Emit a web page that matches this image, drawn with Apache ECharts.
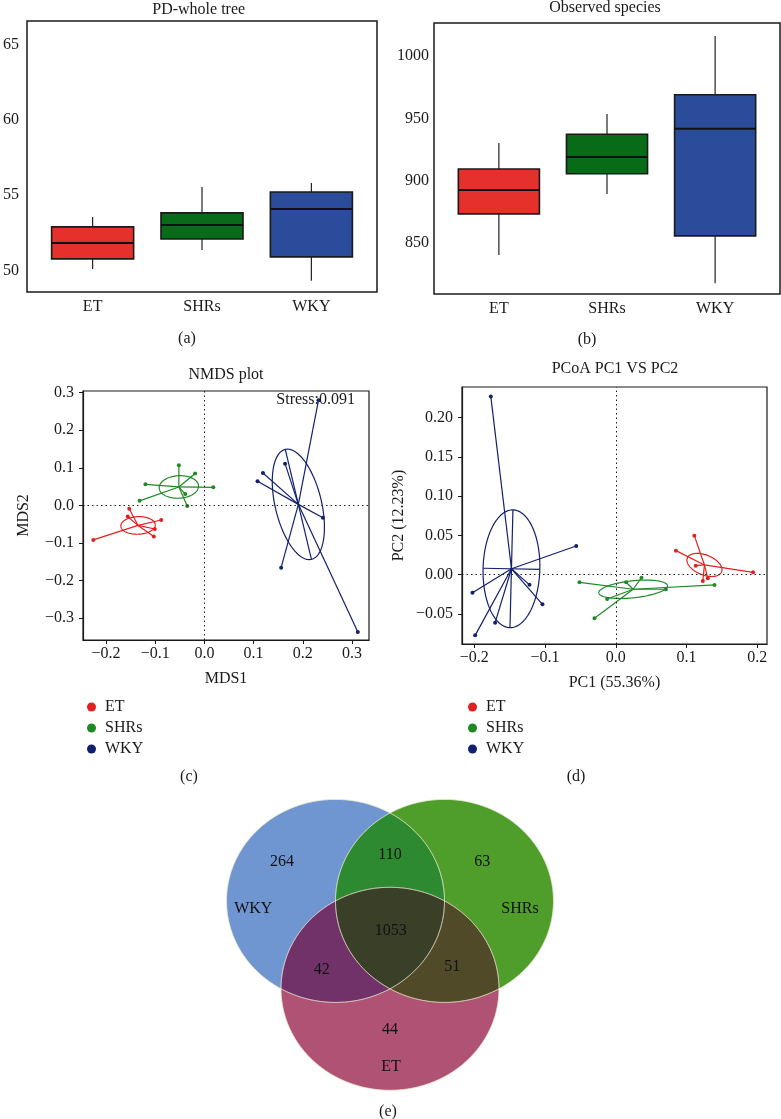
<!DOCTYPE html>
<html><head><meta charset="utf-8">
<script src="https://cdn.jsdelivr.net/npm/echarts@6/dist/echarts.min.js"></script>
<style>html,body{margin:0;padding:0;background:#fff}#c{width:781px;height:1119px}</style>
</head><body><div id="c"></div>
<script>
// ---------- DATA ----------
const groups = ['ET', 'SHRs', 'WKY'];
// boxplots: [min, Q1, median, Q3, max]
const pdWholeTree = [
  [50.11, 50.78, 51.84, 52.90, 53.56],
  [51.37, 52.10, 53.03, 53.83, 55.55],
  [49.32, 50.91, 54.09, 55.22, 55.82]
];
const observedSpecies = [
  [840.2, 873.2, 892.4, 909.3, 930.2],
  [889.2, 905.5, 919.0, 937.2, 953.5],
  [817.4, 855.5, 941.7, 969.0, 1016.2]
];
const pdTicks = [50, 55, 60, 65];
const osTicks = [850, 900, 950, 1000];

// NMDS sample coordinates [MDS1, MDS2]
const nmdsET = [[-0.226,-0.092],[-0.153,-0.009],[-0.156,-0.030],[-0.088,-0.039],[-0.101,-0.063],[-0.103,-0.083]];
const nmdsSHRs = [[-0.052,0.107],[-0.019,0.085],[-0.120,0.056],[0.018,0.048],[-0.132,0.012],[-0.035,-0.002],[-0.039,0.030]];
const nmdsWKY = [[0.232,0.280],[0.164,0.111],[0.119,0.086],[0.108,0.064],[0.241,-0.033],[0.156,-0.166],[0.312,-0.337]];
// confidence ellipses: [cx, cy, ax, ay, bx, by]  (conjugate half-axis vectors)
const nmdsEllET = [-0.135, -0.0535, 0.035, 0.002, -0.001, 0.0234];
const nmdsEllSHRs = [-0.052, 0.049, 0.040, 0.002, 0.0, 0.030];
const nmdsEllWKY = [0.191, 0.0026, 0.0266, -0.1464, 0.0459, 0.0141];
const nmdsStress = 0.091;
const nmdsXTicks = [-0.2, -0.1, 0, 0.1, 0.2, 0.3];
const nmdsYTicks = [-0.3, -0.2, -0.1, 0, 0.1, 0.2, 0.3];

// PCoA sample coordinates [PC1, PC2]
const pcoaET = [[0.111,0.0497],[0.085,0.0306],[0.194,0.003],[0.113,0.0115],[0.123,-0.008],[0.130,-0.0046]];
const pcoaSHRs = [[-0.0513,-0.0097],[0.0363,-0.0038],[0.1395,-0.0131],[0.0146,-0.0097],[0.0707,-0.0186],[-0.0123,-0.031],[-0.0301,-0.0556]];
const pcoaWKY = [[-0.1767,0.227],[-0.056,0.0365],[-0.2026,-0.0229],[-0.122,-0.013],[-0.1037,-0.0378],[-0.1706,-0.0611],[-0.1988,-0.0773]];
const pcoaEllET = [0.1253, 0.0124, 0.0242, -0.0088, -0.0053, -0.0118];
const pcoaEllSHRs = [0.0245, -0.0186, 0.0485, 0.0046, 0.00126, -0.0108];
const pcoaEllWKY = [-0.1475, 0.0075, 0.0021, 0.075, 0.0401, -0.0007];
const pcoaXTicks = [-0.2, -0.1, 0, 0.1, 0.2];
const pcoaYTicks = [-0.05, 0, 0.05, 0.10, 0.15, 0.20];
const pc1Pct = '55.36%';
const pc2Pct = '12.23%';

// Venn: sets and region counts
const vennSets = ['WKY', 'SHRs', 'ET'];
const vennRegions = ['WKY', 'WKY∩SHRs', 'SHRs', 'WKY∩ET', 'WKY∩SHRs∩ET', 'SHRs∩ET', 'ET'];
const vennCounts = [264, 110, 63, 42, 1053, 51, 44];

// ---------- LAYOUT / STYLE ----------
const FF = '"Liberation Serif","DejaVu Serif",serif';
const TXT = '#1a1a1a';
const boxColors = ['#e5302b', '#076b17', '#2b4b9b'];
const grpColors = ['#e2201f', '#1f8a24', '#13206e'];
// venn layout (unit circles, equilateral arrangement)
const vennCenters = [[-0.5, 0], [0.5, 0], [0, -0.866]];
const vennCountPos = [[-0.99,0.386],[0,0.452],[0.847,0.386],[-0.627,-0.674],[0.006,-0.294],[0.572,-0.654],[0,-1.265]];
const vennSetPos = [[-1.254,-0.073],[1.193,-0.08],[0.009,-1.639]];
const vennFill = { W:'#7096d1', S:'#4f9e2c', E:'#b05273', WS:'#2d8a30', WE:'#703269', SE:'#504a28', WSE:'#3a4028' };

const fmtMinus = s => s.replace('-', '\u2212');
const fmt1 = v => fmtMinus((Math.abs(v) < 1e-9 ? 0 : v).toFixed(1));
const fmt2 = v => fmtMinus((Math.abs(v) < 1e-9 ? 0 : v).toFixed(2));

function boxRender(params, api) {
  const x = api.value(0);
  const lo = api.coord([x, api.value(1)]);
  const q1 = api.coord([x, api.value(2)]);
  const md = api.coord([x, api.value(3)]);
  const q3 = api.coord([x, api.value(4)]);
  const hi = api.coord([x, api.value(5)]);
  const w = api.size([0.75, 0])[0];
  const cx = md[0];
  return { type: 'group', children: [
    { type: 'line', shape: { x1: cx, y1: hi[1], x2: cx, y2: q3[1] }, style: { stroke: '#222', lineWidth: 1.2 } },
    { type: 'line', shape: { x1: cx, y1: q1[1], x2: cx, y2: lo[1] }, style: { stroke: '#222', lineWidth: 1.2 } },
    { type: 'rect', shape: { x: cx - w / 2, y: q3[1], width: w, height: q1[1] - q3[1] },
      style: { fill: boxColors[params.dataIndex], stroke: '#1a1a1a', lineWidth: 1.6 } },
    { type: 'line', shape: { x1: cx - w / 2, y1: md[1], x2: cx + w / 2, y2: md[1] }, style: { stroke: '#111', lineWidth: 2 } }
  ]};
}

function ordRender(points, ell, color, axesDraw) {
  return function (params, api) {
    const c = api.coord([ell[0], ell[1]]);
    const ch = [];
    points.forEach(p => {
      const q = api.coord(p);
      ch.push({ type: 'line', shape: { x1: c[0], y1: c[1], x2: q[0], y2: q[1] }, style: { stroke: color, lineWidth: 1.2 } });
    });
    const pts = [];
    for (let k = 0; k <= 160; k++) {
      const t = 2 * Math.PI * k / 160;
      pts.push(api.coord([ell[0] + ell[2] * Math.cos(t) + ell[4] * Math.sin(t), ell[1] + ell[3] * Math.cos(t) + ell[5] * Math.sin(t)]));
    }
    ch.push({ type: 'polyline', shape: { points: pts }, style: { stroke: color, lineWidth: 1.2, fill: null } });
    if (axesDraw.indexOf('a') >= 0) {
      const p1 = api.coord([ell[0] + ell[2], ell[1] + ell[3]]), p2 = api.coord([ell[0] - ell[2], ell[1] - ell[3]]);
      ch.push({ type: 'line', shape: { x1: p1[0], y1: p1[1], x2: p2[0], y2: p2[1] }, style: { stroke: color, lineWidth: 1.2 } });
    }
    if (axesDraw.indexOf('b') >= 0) {
      const p1 = api.coord([ell[0] + ell[4], ell[1] + ell[5]]), p2 = api.coord([ell[0] - ell[4], ell[1] - ell[5]]);
      ch.push({ type: 'line', shape: { x1: p1[0], y1: p1[1], x2: p2[0], y2: p2[1] }, style: { stroke: color, lineWidth: 1.2 } });
    }
    return { type: 'group', children: ch };
  };
}

function regionPoints(idx, api) {
  const pts = [];
  idx.forEach(i => {
    const C = vennCenters[i];
    for (let k = 0; k < 1440; k++) {
      const t = 2 * Math.PI * k / 1440;
      const p = [C[0] + Math.cos(t), C[1] + Math.sin(t)];
      if (idx.every(j => j === i || Math.hypot(p[0] - vennCenters[j][0], p[1] - vennCenters[j][1]) <= 1.000001)) pts.push(p);
    }
  });
  let mx = 0, my = 0;
  pts.forEach(p => { mx += p[0]; my += p[1]; });
  mx /= pts.length; my /= pts.length;
  pts.sort((a, b) => Math.atan2(a[1] - my, a[0] - mx) - Math.atan2(b[1] - my, b[0] - mx));
  return pts.map(p => api.coord(p));
}

function vennRender(params, api) {
  const ch = [];
  const fills = [[[0], vennFill.W], [[1], vennFill.S], [[2], vennFill.E], [[0,1], vennFill.WS], [[0,2], vennFill.WE], [[1,2], vennFill.SE], [[0,1,2], vennFill.WSE]];
  fills.forEach(f => ch.push({ type: 'polygon', shape: { points: regionPoints(f[0], api) }, style: { fill: f[1], stroke: null } }));
  [0,1,2].forEach(i => ch.push({ type: 'polygon', shape: { points: regionPoints([i], api) }, style: { fill: null, stroke: '#f1efd6', lineWidth: 1 } }));
  return { type: 'group', children: ch };
}

function labelRender(params, api) {
  const p = api.coord([api.value(0), api.value(1)]);
  return { type: 'text', x: p[0], y: p[1], style: { text: String(api.value(2)), fontFamily: FF, fontSize: 16, fill: '#111', align: 'center', verticalAlign: 'middle' } };
}
function setLabelRender(params, api) {
  const p = api.coord([api.value(0), api.value(1)]);
  return { type: 'text', x: p[0], y: p[1], style: { text: vennSets[params.dataIndex], fontFamily: FF, fontSize: 16, fill: '#111', align: 'center', verticalAlign: 'middle' } };
}

const lblStyle = { fontFamily: FF, fontSize: 16, color: TXT };
const boxX = (gi, margin) => ({ gridIndex: gi, type: 'value', min: 0.4, max: 3.6,
  axisLine: { show: false, onZero: false }, axisTick: { show: false }, splitLine: { show: false },
  axisLabel: Object.assign({ customValues: [1, 2, 3], formatter: v => groups[Math.round(v) - 1], margin: margin }, lblStyle) });
const boxY = (gi, min, max, ticks, margin) => ({ gridIndex: gi, type: 'value', min: min, max: max,
  axisLine: { show: false, onZero: false }, axisTick: { show: false }, splitLine: { show: false },
  axisLabel: Object.assign({ customValues: ticks, formatter: v => String(v), margin: margin }, lblStyle) });
const ordAxis = (gi, min, max, ticks, fmt, margin, name, gap, isY) => ({ gridIndex: gi, type: 'value', min: min, max: max,
  axisLine: { show: true, onZero: false, lineStyle: { color: '#1a1a1a', width: 1.2 } }, splitLine: { show: false },
  axisTick: { show: true, inside: false, customValues: ticks, length: 4, lineStyle: { color: '#1a1a1a', width: 1 } },
  axisLabel: Object.assign({ customValues: ticks, formatter: fmt, margin: margin }, lblStyle),
  name: name, nameLocation: 'middle', nameGap: gap, nameRotate: isY ? 90 : 0,
  nameTextStyle: { fontFamily: FF, fontSize: 16, color: TXT } });

const zeroMark = { silent: true, symbol: 'none', label: { show: false },
  lineStyle: { color: '#222', type: [1.5, 3], width: 1 }, data: [{ xAxis: 0 }, { yAxis: 0 }] };

const series = [];
series.push({ type: 'custom', xAxisIndex: 0, yAxisIndex: 0, renderItem: boxRender, encode: { x: 0, y: [1,2,3,4,5] },
  data: pdWholeTree.map((d, i) => [i + 1].concat(d)) });
series.push({ type: 'custom', xAxisIndex: 1, yAxisIndex: 1, renderItem: boxRender, encode: { x: 0, y: [1,2,3,4,5] },
  data: observedSpecies.map((d, i) => [i + 1].concat(d)) });

const nmds = [[nmdsET, nmdsEllET, ''], [nmdsSHRs, nmdsEllSHRs, ''], [nmdsWKY, nmdsEllWKY, 'a']];
const pcoa = [[pcoaET, pcoaEllET, ''], [pcoaSHRs, pcoaEllSHRs, ''], [pcoaWKY, pcoaEllWKY, 'ab']];
[[nmds, 2], [pcoa, 3]].forEach(([set, gi]) => {
  set.forEach((g, k) => {
    series.push({ type: 'custom', xAxisIndex: gi, yAxisIndex: gi, renderItem: ordRender(g[0], g[1], grpColors[k], g[2]),
      encode: { x: 0, y: 1 }, data: [[g[1][0], g[1][1]]], z: 2, silent: true });
  });
  set.forEach((g, k) => {
    const s = { type: 'scatter', name: groups[k], xAxisIndex: gi, yAxisIndex: gi, data: g[0], symbolSize: 4,
      itemStyle: { color: grpColors[k], opacity: 1 }, z: 3, silent: true };
    if (k === 0) s.markLine = zeroMark;
    series.push(s);
  });
});

series.push({ type: 'custom', xAxisIndex: 4, yAxisIndex: 4, renderItem: vennRender, data: [[0, 0]], clip: false, silent: true, z: 1 });
series.push({ type: 'custom', xAxisIndex: 4, yAxisIndex: 4, renderItem: labelRender, clip: false, silent: true, z: 5,
  data: vennCounts.map((v, i) => [vennCountPos[i][0], vennCountPos[i][1], v]) });
series.push({ type: 'custom', xAxisIndex: 4, yAxisIndex: 4, renderItem: setLabelRender, clip: false, silent: true, z: 5,
  data: vennSets.map((s, i) => [vennSetPos[i][0], vennSetPos[i][1]]) });

const txt = (text, x, y, align) => ({ type: 'text', x: x, y: y, silent: true,
  style: { text: text, fontFamily: FF, fontSize: 16, fill: TXT, align: align || 'center', verticalAlign: 'middle' } });

const legendBase = { data: groups, orient: 'vertical', icon: 'circle', itemWidth: 9, itemHeight: 9, itemGap: 5,
  selectedMode: false, itemStyle: { opacity: 1 },
  textStyle: { fontFamily: FF, fontSize: 16, lineHeight: 16, color: TXT, padding: [0, 0, 0, 4] } };

const option = {
  animation: false,
  backgroundColor: '#fff',
  grid: [
    { left: 24, top: 21, width: 353, height: 271, show: true, borderColor: '#1a1a1a', borderWidth: 1.5, backgroundColor: 'transparent' },
    { left: 434, top: 23, width: 346, height: 271, show: true, borderColor: '#1a1a1a', borderWidth: 1.5, backgroundColor: 'transparent' },
    { left: 83, top: 391, width: 286, height: 249, show: true, borderColor: '#1a1a1a', borderWidth: 1.2, backgroundColor: 'transparent' },
    { left: 462, top: 387, width: 305, height: 257, show: true, borderColor: '#1a1a1a', borderWidth: 1.2, backgroundColor: 'transparent' },
    { left: 215.6, top: 789.25, width: 348.8, height: 314.65, show: false }
  ],
  xAxis: [
    boxX(0, 7), boxX(1, 7),
    ordAxis(2, -0.247, 0.3347, nmdsXTicks, fmt1, 6, 'MDS1', 31, false),
    ordAxis(3, -0.2174, 0.2137, pcoaXTicks, fmt1, 6, 'PC1 (' + pc1Pct + ')', 31, false),
    { gridIndex: 4, type: 'value', min: -1.6, max: 1.6, show: false }
  ],
  yAxis: [
    boxY(0, 48.58, 66.57, pdTicks, 8),
    boxY(1, 808.8, 1026.7, osTicks, 5),
    ordAxis(2, -0.3586, 0.3045, nmdsYTicks, fmt1, 9, 'MDS2', 51, true),
    ordAxis(3, -0.0883, 0.239, pcoaYTicks, fmt2, 9, 'PC2 (' + pc2Pct + ')', 55, true),
    { gridIndex: 4, type: 'value', min: -2, max: 1.1, show: false }
  ],
  legend: [
    Object.assign({ left: 82, top: 694 }, legendBase),
    Object.assign({ left: 463, top: 694 }, legendBase)
  ],
  graphic: [
    txt('PD-whole tree', 198.7, 10),
    txt('Observed species', 605, 8),
    txt('(a)', 187, 339),
    txt('(b)', 587, 340),
    txt('NMDS plot', 226, 375),
    txt('PCoA PC1 VS PC2', 615, 369),
    txt('Stress:' + nmdsStress, 355, 400, 'right'),
    txt('(c)', 189, 777),
    txt('(d)', 576, 777),
    txt('(e)', 388, 1112)
  ],
  series: series
};
const chart = echarts.init(document.getElementById('c'));
chart.setOption(option);
</script></body></html>
